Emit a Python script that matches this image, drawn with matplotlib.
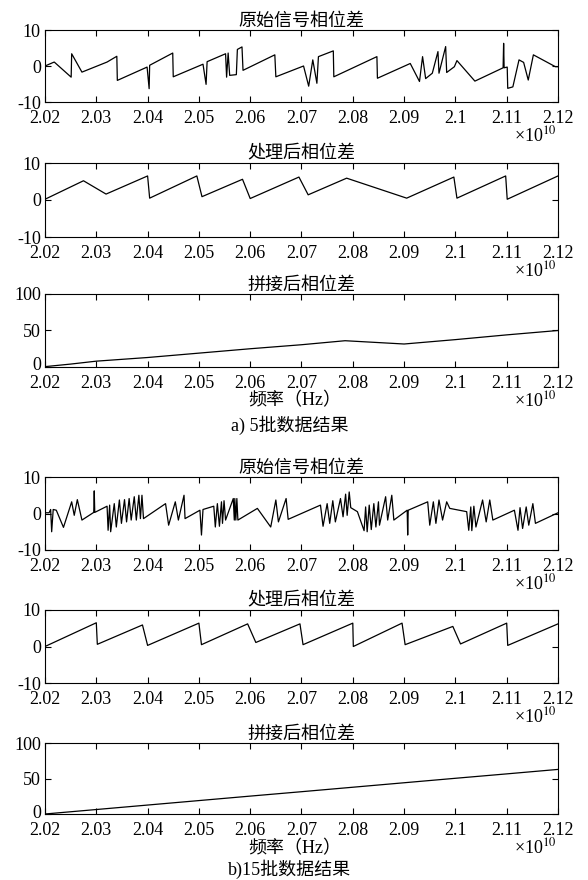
import matplotlib
matplotlib.use("Agg")
import matplotlib.pyplot as plt
import matplotlib.transforms as mtransforms
from matplotlib.ticker import FuncFormatter

plt.rcParams['font.family'] = ['Liberation Serif', 'Noto Sans CJK SC']
plt.rcParams['mathtext.fontset'] = 'stix'
plt.rcParams['axes.unicode_minus'] = False

# frequency in units of 1e10 Hz, phase in rad

# a) 5 batches, raw phase difference
f_raw5 = [2.0200, 2.0218, 2.0251, 2.0252, 2.0272, 2.0321, 2.0340, 2.0341, 2.0399, 2.0403,
          2.0404, 2.0449, 2.0450, 2.0508, 2.0514, 2.0516, 2.0552, 2.0554, 2.0557, 2.0560,
          2.0573, 2.0575, 2.0584, 2.0586, 2.0648, 2.0650, 2.0704, 2.0714, 2.0722, 2.0730,
          2.0733, 2.0762, 2.0763, 2.0847, 2.0848, 2.0912, 2.0930, 2.0936, 2.0942, 2.0955,
          2.0966, 2.0968, 2.0981, 2.0983, 2.0998, 2.1003, 2.1038, 2.1093, 2.1094, 2.1095,
          2.1101, 2.1102, 2.1112, 2.1124, 2.1133, 2.1142, 2.1152, 2.1195, 2.1200]
p_raw5 = [0.0, 1.1, -3.1, 3.4, -1.7, 1.1, 2.7, -4.0, -0.3, -6.3,
          0.2, 3.6, -3.0, 0.5, -5.1, 1.2, 3.4, -3.1, 3.6, -2.6,
          -2.4, 4.6, 5.3, -1.2, 3.1, -3.0, 0.0, -5.6, 1.7, -4.8,
          2.6, 4.2, -3.0, 2.6, -3.4, 0.7, -4.3, 2.6, -3.5, -2.0,
          4.0, -2.0, 5.4, -1.8, -0.2, 1.5, -4.2, -0.5, 6.3, -0.5,
          -0.3, -6.2, -5.8, 1.7, 1.0, -3.9, 3.1, -0.2, -0.2]

# a) processed phase difference
f_proc5 = [2.0200, 2.0275, 2.0319, 2.0400, 2.0404, 2.0496, 2.0506, 2.0585, 2.0600,
           2.0695, 2.0713, 2.0788, 2.0905, 2.0997, 2.1003, 2.1098, 2.1101, 2.1200]
p_proc5 = [0.2, 5.2, 1.6, 6.5, 0.5, 6.5, 0.9, 5.6, 0.4,
           6.2, 1.4, 5.9, 0.5, 6.2, 0.5, 6.5, 0.2, 6.5]

# a) stitched phase
f_cat5 = [2.0200, 2.0250, 2.0300, 2.0400, 2.0500, 2.0600, 2.0700, 2.0785,
          2.0900, 2.1000, 2.1100, 2.1200]
p_cat5 = [0.5, 4.0, 8.0, 13.0, 19.0, 25.0, 30.5, 36.0, 31.5, 37.5, 44.0, 50.0]

# b) 15 batches, raw phase difference
f_raw15 = [2.0200, 2.0208, 2.0211, 2.0213, 2.0216, 2.0222, 2.0236, 2.0252, 2.0257, 2.0263,
           2.0272, 2.0295, 2.0296, 2.0297, 2.0321, 2.0323, 2.0326, 2.0328, 2.0335, 2.0339,
           2.0345, 2.0349, 2.0355, 2.0359, 2.0364, 2.0368, 2.0374, 2.0378, 2.0383, 2.0386,
           2.0389, 2.0392, 2.0435, 2.0441, 2.0454, 2.0460, 2.0471, 2.0473, 2.0502, 2.0505,
           2.0508, 2.0529, 2.0532, 2.0536, 2.0540, 2.0544, 2.0546, 2.0549, 2.0552, 2.0567,
           2.0569, 2.0570, 2.0572, 2.0574, 2.0576, 2.0614, 2.0640, 2.0650, 2.0655, 2.0670,
           2.0674, 2.0737, 2.0742, 2.0750, 2.0755, 2.0761, 2.0766, 2.0776, 2.0781, 2.0786,
           2.0789, 2.0793, 2.0796, 2.0809, 2.0822, 2.0825, 2.0828, 2.0832, 2.0836, 2.0841,
           2.0845, 2.0850, 2.0852, 2.0864, 2.0868, 2.0876, 2.0880, 2.0906, 2.0907, 2.0908,
           2.0946, 2.0950, 2.0957, 2.0962, 2.0968, 2.0975, 2.0983, 2.0989, 2.1022, 2.1026,
           2.1030, 2.1032, 2.1036, 2.1040, 2.1053, 2.1060, 2.1067, 2.1073, 2.1115, 2.1122,
           2.1126, 2.1131, 2.1138, 2.1143, 2.1151, 2.1156, 2.1200]
p_raw15 = [0.2, 0.2, 1.1, -5.0, 1.1, 0.9, -3.8, 3.2, -0.5, 3.8,
           -1.8, 0.3, 6.2, 0.3, 2.0, -4.6, 2.3, -5.0, 2.7, -3.7,
           3.7, -2.7, 3.8, -2.3, 4.1, -1.8, 4.6, -1.8, 5.0, -1.4,
           5.0, -1.4, 2.7, -3.2, 3.2, -1.8, 5.0, -1.4, 0.9, -5.9,
           1.1, 2.0, -3.7, 2.7, -3.5, 3.2, -2.7, 3.5, -1.8, 4.1,
           -1.8, 4.1, -1.8, 4.1, -1.8, 1.4, -3.7, 3.7, -2.3, 4.1,
           -1.6, 2.3, -3.5, 2.7, -2.7, 3.5, -2.3, 4.1, -0.9, 5.3,
           -0.5, 5.9, 1.6, 0.5, -4.7, 1.8, -5.0, 2.3, -4.4, 2.7,
           -3.7, 3.2, -3.2, 4.6, -1.8, 5.0, -1.8, 0.9, -5.9, 0.9,
           3.2, -3.2, 3.2, -2.7, 3.7, -1.8, 3.2, 1.4, 0.5, -4.6,
           1.8, -4.7, 2.0, -3.7, 3.7, -2.3, 3.7, -1.8, 0.9, -4.6,
           1.6, -4.1, 1.8, -3.2, 2.7, -2.7, 0.2]

# b) processed phase difference
f_proc15 = [2.0200, 2.0300, 2.0302, 2.0390, 2.0400, 2.0500, 2.0505, 2.0595, 2.0611,
            2.0697, 2.0703, 2.0800, 2.0801, 2.0896, 2.0902, 2.0995, 2.1010, 2.1100,
            2.1102, 2.1200]
p_proc15 = [0.0, 6.5, 0.6, 5.9, 0.3, 6.4, 0.5, 6.2, 1.1,
            6.2, 0.5, 6.4, 0.0, 6.4, 0.5, 5.5, 0.7, 6.4,
            0.3, 6.2]

# b) stitched phase
f_cat15 = [2.0200, 2.0300, 2.0400, 2.0500, 2.0600, 2.0700, 2.0800, 2.0900,
           2.1000, 2.1100, 2.1200]
p_cat15 = [0.0, 6.3, 12.6, 18.9, 25.2, 31.4, 37.7, 44.0, 50.3, 56.5, 62.8]

xticks = [2.02, 2.03, 2.04, 2.05, 2.06, 2.07, 2.08, 2.09, 2.10, 2.11, 2.12]
FS = 13
W, H = 588, 880


def panel(fig, top, bottom, f, p, title, ylim, yticks):
    ax = fig.add_axes([45 / W, 1 - bottom / H, 513 / W, (bottom - top) / H])
    ax.plot(f, p, color='black', lw=0.9)
    ax.set_xlim(2.02, 2.12)
    ax.set_ylim(*ylim)
    ax.set_xticks(xticks)
    ax.set_yticks(yticks)
    ax.xaxis.set_major_formatter(FuncFormatter(lambda v, pos: '%g' % round(v, 2)))
    ax.tick_params(direction='in', top=True, right=True, length=4, width=0.8,
                   labelsize=FS, pad=3)
    ax.tick_params(axis='x', pad=6)
    for s in ax.spines.values():
        s.set_linewidth(0.8)
    ax.set_title(title, fontsize=FS, pad=3)
    fig.text(535 / W, 1 - (bottom + 33) / H, '×10$^{10}$', fontsize=FS,
             ha='center', va='center')
    if ylim[0] == 0:
        # lift the "0" label a little so it clears the first x label
        shift = mtransforms.ScaledTranslation(0, 3 / 100, fig.dpi_scale_trans)
        lab = ax.get_yticklabels()[0]
        lab.set_transform(lab.get_transform() + shift)
    return ax


fig = plt.figure(figsize=(W / 100, H / 100), dpi=100)

panel(fig, 30, 102, f_raw5, p_raw5, '原始信号相位差', (-10, 10), [-10, 0, 10])
panel(fig, 163, 237, f_proc5, p_proc5, '处理后相位差', (-10, 10), [-10, 0, 10])
panel(fig, 294, 367, f_cat5, p_cat5, '拼接后相位差', (0, 100), [0, 50, 100])
fig.text(295 / W, 1 - 401 / H, '频率（Hz）', fontsize=FS, ha='center', va='center')
fig.text(290 / W, 1 - 425 / H, 'a) 5批数据结果', fontsize=FS, ha='center', va='center')

panel(fig, 477, 550, f_raw15, p_raw15, '原始信号相位差', (-10, 10), [-10, 0, 10])
panel(fig, 610, 683, f_proc15, p_proc15, '处理后相位差', (-10, 10), [-10, 0, 10])
panel(fig, 743, 814, f_cat15, p_cat15, '拼接后相位差', (0, 100), [0, 50, 100])
fig.text(295 / W, 1 - 849 / H, '频率（Hz）', fontsize=FS, ha='center', va='center')
fig.text(290 / W, 1 - 869 / H, 'b)15批数据结果', fontsize=FS, ha='center', va='center')

fig.savefig('out.png', dpi=100)
